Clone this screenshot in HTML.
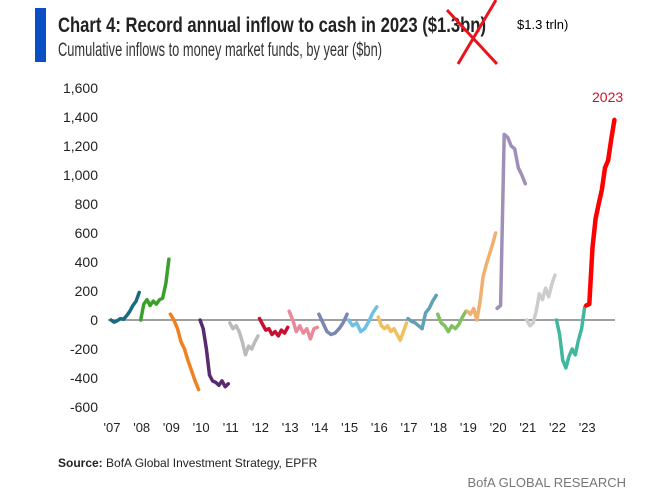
<!DOCTYPE html>
<html><head><meta charset="utf-8"><style>
body{margin:0;background:#fff;}
svg{display:block;font-family:"Liberation Sans",sans-serif;}
</style></head><body>
<svg id="c" width="669" height="500" viewBox="0 0 669 500">
<rect x="35" y="8" width="11" height="54" fill="#0a4fc4"/>
<text x="58" y="32" font-family="Liberation Sans Narrow, Liberation Sans, sans-serif" font-weight="bold" font-size="21" fill="#222" textLength="428" lengthAdjust="spacingAndGlyphs">Chart 4: Record annual inflow to cash in 2023 ($1.3bn)</text>
<text x="58" y="56" font-family="Liberation Sans Narrow, Liberation Sans, sans-serif" font-size="19" fill="#333" textLength="324" lengthAdjust="spacingAndGlyphs">Cumulative inflows to money market funds, by year ($bn)</text>
<line x1="447" y1="10" x2="497" y2="64" stroke="#e8141b" stroke-width="3"/>
<line x1="496" y1="0" x2="458" y2="64" stroke="#e8141b" stroke-width="3"/>
<text x="517" y="29" font-size="13" fill="#000">$1.3 trln)</text>
<g id="axes"></g>
<g id="series"></g>
<text x="592" y="102" font-size="14" fill="#d0102a">2023</text>
<text x="58" y="467" font-size="12" fill="#222"><tspan font-weight="bold">Source:</tspan>  BofA Global Investment Strategy, EPFR</text>
<text x="626" y="487" font-size="13" fill="#777" text-anchor="end">BofA GLOBAL RESEARCH</text>
</svg>
<script>
const yTicks=[1600,1400,1200,1000,800,600,400,200,0,-200,-400,-600];
const yTickLabels=["1,600","1,400","1,200","1,000","800","600","400","200","0","-200","-400","-600"];
const xLabels=["'07","'08","'09","'10","'11","'12","'13","'14","'15","'16","'17","'18","'19","'20","'21","'22","'23"];
const years=[2007,2008,2009,2010,2011,2012,2013,2014,2015,2016,2017,2018,2019,2020,2021,2022,2023];
const colors=["#1a6b80","#3aa02a","#f08020","#5a2a70","#bbbbbb","#c8102e","#e88a9a","#7a88b0","#70c0e0","#f0c060","#60a0b8","#80c060","#f0b070","#a090b8","#cccccc","#40b8a0","#ff0000"];
const v2007=[0,-15,-5,10,5,30,60,100,130,190];
const v2008=[0,110,140,100,130,110,140,150,250,420];
const v2009=[40,0,-60,-150,-200,-280,-350,-420,-480];
const v2010=[0,-60,-200,-380,-420,-430,-450,-420,-460,-440];
const v2011=[-20,-60,-40,-80,-150,-240,-180,-200,-150,-110];
const v2012=[10,-30,-70,-60,-100,-80,-110,-70,-90,-50];
const v2013=[60,0,-80,-40,-90,-60,-130,-60,-50];
const v2014=[40,-20,-80,-100,-90,-60,-20,40];
const v2015=[0,-40,-20,-80,-60,-10,50,90];
const v2016=[20,-40,-60,-40,-80,-60,-100,-140,-80,-20];
const v2017=[10,-10,-20,-40,-60,50,80,130,170];
const v2018=[40,-20,-40,-80,-40,-60,-30,20,60];
const v2019=[60,40,80,0,120,300,380,450,520,600];
const v2020=[80,100,1280,1260,1200,1180,1050,1000,940];
const v2021=[0,-40,-20,60,180,140,220,160,250,310];
const v2022=[0,-100,-280,-330,-250,-200,-240,-140,-60,90];
const v2023=[100,110,500,700,800,900,1050,1100,1250,1380];
const seriesValues=[v2007,v2008,v2009,v2010,v2011,v2012,v2013,v2014,v2015,v2016,v2017,v2018,v2019,v2020,v2021,v2022,v2023];

const NS="http://www.w3.org/2000/svg";
function yS(v){return 320-(v/200)*29;}
function xS(t){return 111+(t-2007)*29.7;}
const axes=document.getElementById('axes');
yTicks.forEach((t,i)=>{
  const e=document.createElementNS(NS,'text');
  
  
  e.setAttribute('x',98);e.setAttribute('y',yS(t)+5);
  e.setAttribute('text-anchor','end');e.setAttribute('font-size','14');e.setAttribute('fill','#222');
  e.textContent=yTickLabels[i];axes.appendChild(e);
});
const zl=document.createElementNS(NS,'line');


zl.setAttribute('x1',108);zl.setAttribute('x2',615);zl.setAttribute('y1',yS(0));zl.setAttribute('y2',yS(0));
zl.setAttribute('stroke','#808080');zl.setAttribute('stroke-width','1.5');axes.appendChild(zl);
xLabels.forEach((l,i)=>{
  const e=document.createElementNS(NS,'text');
  
  
  e.setAttribute('x',xS(years[i])+1);e.setAttribute('y',432);
  e.setAttribute('text-anchor','middle');e.setAttribute('font-size','13');e.setAttribute('fill','#222');
  e.textContent=l;axes.appendChild(e);
});
const sg=document.getElementById('series');
seriesValues.forEach((vals,i)=>{
  const n=vals.length;
  const pts=vals.map((v,j)=>xS(years[i]+j/(n-1)*0.95).toFixed(1)+','+yS(v).toFixed(1)).join(' ');
  const p=document.createElementNS(NS,'polyline');
  
  
  p.setAttribute('points',pts);p.setAttribute('fill','none');
  p.setAttribute('stroke',colors[i]);p.setAttribute('stroke-width',years[i]===2023?4.5:3.5);
  p.setAttribute('stroke-linejoin','round');p.setAttribute('stroke-linecap','round');
  sg.appendChild(p);
});
</script>
</body></html>
